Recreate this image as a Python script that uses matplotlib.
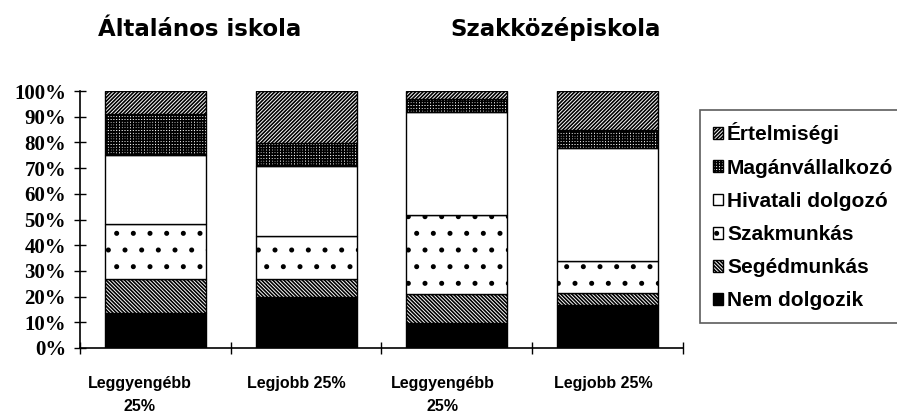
import numpy as np
import matplotlib.pyplot as plt
import matplotlib.transforms as mtransforms

# data (percent of pupils by parent's occupation)
groups = ['Leggyengébb\n25%', 'Legjobb 25%', 'Leggyengébb\n25%', 'Legjobb 25%']
titles = ['Általános iskola', 'Szakközépiskola']
categories = ['Nem dolgozik', 'Segédmunkás', 'Szakmunkás',
              'Hivatali dolgozó', 'Magánvállalkozó', 'Értelmiségi']
nem_dolgozik = [13.6, 19.8, 9.7, 16.6]
segedmunkas = [13.3, 7.1, 11.3, 4.8]
szakmunkas = [21.4, 16.5, 30.9, 12.5]
hivatali = [27.0, 27.3, 40.1, 43.8]
maganvallalkozo = [15.6, 9.2, 4.8, 7.1]
ertelmisegi = [9.1, 20.1, 3.2, 15.2]

series = [nem_dolgozik, segedmunkas, szakmunkas, hivatali, maganvallalkozo, ertelmisegi]
faces = ['black', 'white', 'white', 'white', 'white', 'white']
hatches = [None, '\\\\\\\\\\\\\\\\\\', '.', None, '++++++', '/////////']

plt.rcParams['hatch.linewidth'] = 1.2

fig = plt.figure(figsize=(8.97, 4.16), dpi=100)
ax = fig.add_axes([0.0892, 0.1635, 0.6722, 0.6175])

x = np.arange(len(groups))
bottom = np.zeros(len(groups))
handles = []
for vals, fc, h, lab in zip(series, faces, hatches, categories):
    b = ax.bar(x, vals, 0.67, bottom=bottom, color=fc, edgecolor='black',
               hatch=h, linewidth=1.0, label=lab)
    handles.append(b)
    bottom += np.array(vals)

ax.set_xlim(-0.5, 3.5)
ax.set_ylim(0, 100)
ax.set_yticks(np.arange(0, 101, 10))
ax.set_yticklabels([f'{v}%' for v in range(0, 101, 10)],
                   fontfamily='Liberation Serif', fontweight='bold', fontsize=15)
ax.set_xticks(x)
ax.set_xticklabels(groups, fontfamily='Liberation Sans', fontweight='bold',
                   fontsize=11.5, linespacing=1.65)
ax.set_xticks(np.arange(-0.5, 4.0, 1.0), minor=True)
ax.tick_params(axis='x', which='major', length=0, pad=20)
ax.tick_params(axis='x', which='minor', direction='inout', length=8, width=1)
ax.tick_params(axis='y', direction='inout', length=8, width=1, pad=6)
for s in ['top', 'right']:
    ax.spines[s].set_visible(False)
ax.spines['left'].set_linewidth(1.2)
ax.spines['bottom'].set_linewidth(1.2)

# excel placed the wrapped labels a bit left of the bar centres
for lbl, dx in zip(ax.get_xticklabels(), [-16, -10, -14, -4]):
    lbl.set_transform(lbl.get_transform() +
                      mtransforms.ScaledTranslation(dx / 100, 0, fig.dpi_scale_trans))

# group titles
fig.text(200/897, 1 - 29/416, titles[0], ha='center', va='center',
         fontfamily='DejaVu Sans', fontweight='bold', fontsize=16.5)
fig.text(556/897, 1 - 29/416, titles[1], ha='center', va='center',
         fontfamily='DejaVu Sans', fontweight='bold', fontsize=16.5)

leg = fig.legend(handles[::-1], categories[::-1], loc='upper left',
                 bbox_to_anchor=(700/897, 1 - 110/416), frameon=True,
                 fancybox=False, handlelength=0.5, handleheight=0.5,
                 handletextpad=0.2, labelspacing=0.68, borderpad=0.6,
                 borderaxespad=0,
                 prop={'family': 'Liberation Sans', 'weight': 'bold', 'size': 15})
leg.get_frame().set_edgecolor('#333333')
leg.get_frame().set_linewidth(1.2)

fig.savefig('out.png', dpi=100)
